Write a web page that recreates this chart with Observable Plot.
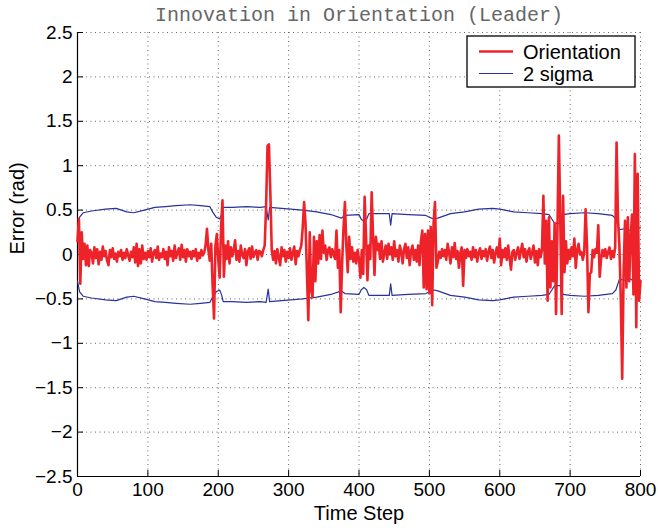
<!DOCTYPE html>
<html>
<head>
<meta charset="utf-8">
<script src="https://cdn.jsdelivr.net/npm/d3@7"></script>
<script src="https://cdn.jsdelivr.net/npm/@observablehq/plot@0.6"></script>
<style>
  html, body { margin: 0; padding: 0; background: #fff; }
  svg { display: block; }
</style>
</head>
<body>
<div id="chart"></div>
<script>
// ---- data ----
const xTicks = [0, 100, 200, 300, 400, 500, 600, 700, 800];
const yTicks = [-2.5, -2, -1.5, -1, -0.5, 0, 0.5, 1, 1.5, 2, 2.5];

// Orientation innovation, sampled every 2 time steps (0..800)
const orientationStep = 2;
const orientation = [
  0.15, 0.40, -0.33, 0.25, -0.05, 0.12, -0.12, 0.10, -0.13, 0.05,
  0.02, -0.10, 0.08, -0.04, 0.06, -0.11, 0.03, -0.06, 0.09, -0.02,
  0.04, -0.07, -0.12, 0.05, -0.03, 0.07, -0.05, 0.01, -0.08, 0.03,
  -0.02, 0.05, -0.06, 0.02, -0.04, 0.06, -0.01, -0.07, 0.03, -0.03,
  0.08, -0.09, 0.12, -0.13, 0.06, -0.10, 0.10, -0.05, 0.02, -0.06,
  0.04, -0.03, 0.07, -0.08, 0.02, 0.05, -0.04, 0.09, -0.06, 0.01,
  -0.03, 0.06, -0.05, 0.03, -0.12, 0.08, -0.02, 0.04, -0.07, 0.10,
  -0.04, 0.02, 0.07, -0.06, 0.11, -0.03, 0.05, -0.08, 0.06, -0.02,
  0.03, -0.05, 0.04, -0.02, 0.06, -0.07, 0.02, -0.04, 0.05, -0.01,
  0.02, 0.10, 0.29, 0.05, -0.07, 0.12, -0.35, -0.72, 0.10, 0.23,
  -0.05, -0.26, 0.30, 0.61, -0.25, 0.10, -0.05, 0.15, -0.10, 0.08,
  -0.02, 0.05, 0.16, -0.06, 0.04, -0.08, 0.10, 0.00, -0.04, 0.06,
  -0.12, 0.03, 0.07, -0.05, 0.09, -0.03, 0.02, 0.05, -0.06, 0.04,
  0.03, -0.02, 0.05, 0.10, 0.55, 1.22, 1.24, 0.70, 0.05, -0.06,
  0.04, -0.10, 0.06, -0.03, -0.12, 0.08, -0.02, 0.05, -0.08, 0.03,
  -0.04, 0.07, -0.06, 0.02, 0.09, -0.11, 0.04, -0.02, 0.05, 0.10,
  0.30, 0.59, 0.35, -0.20, -0.74, 0.25, -0.40, -0.48, 0.20, -0.30,
  0.15, -0.10, 0.22, -0.05, 0.27, 0.02, 0.10, -0.06, 0.05, 0.08,
  -0.03, 0.06, 0.00, -0.05, 0.27, -0.15, 0.05, -0.65, -0.10, 0.30,
  0.59, 0.10, -0.20, 0.20, -0.05, 0.08, -0.08, 0.02, -0.10, 0.05,
  -0.05, -0.26, 0.05, -0.22, 0.65, 0.20, -0.29, 0.10, -0.05, 0.70,
  0.20, -0.23, 0.20, 0.05, 0.12, -0.05, 0.15, -0.08, 0.02, 0.10,
  -0.05, 0.12, 0.00, 0.08, -0.06, 0.15, -0.02, 0.05, -0.08, 0.10,
  0.03, -0.10, 0.06, 0.12, -0.04, 0.08, -0.12, 0.04, 0.10, -0.06,
  0.05, -0.08, 0.10, -0.12, 0.15, 0.27, -0.37, 0.23, -0.39, 0.27,
  -0.44, 0.31, -0.57, 0.35, 0.59, -0.15, -0.08, 0.03, -0.04, 0.06,
  -0.02, 0.05, -0.06, 0.12, 0.02, -0.10, 0.08, -0.03, 0.13, -0.05,
  0.04, -0.15, 0.02, 0.08, -0.35, 0.05, -0.04, 0.06, -0.02, 0.03,
  -0.06, 0.08, -0.03, 0.05, -0.08, 0.02, 0.07, -0.05, 0.04, -0.02,
  0.06, -0.07, 0.03, 0.09, -0.04, 0.05, -0.09, 0.02, 0.08, -0.03,
  0.18, -0.12, 0.05, -0.03, 0.07, -0.06, 0.10, -0.04, -0.17, 0.03,
  0.05, -0.06, 0.02, 0.08, -0.05, 0.04, 0.12, -0.03, 0.06, -0.08,
  0.03, 0.07, -0.05, 0.02, 0.10, -0.09, 0.04, -0.12, 0.06, -0.03,
  0.05, 0.66, -0.10, 0.38, -0.52, 0.42, -0.37, 0.15, -0.30, 0.35,
  -0.67, 0.30, 1.34, 0.40, -0.67, 0.66, -0.20, 0.15, -0.10, 0.05,
  -0.05, 0.08, -0.02, 0.18, -0.15, 0.05, 0.12, 0.00, 0.03, -0.06,
  0.02, 0.51, 0.10, -0.65, -0.22, -0.20, 0.05, -0.03, 0.06, 0.02,
  0.33, -0.25, -0.05, 0.05, -0.02, 0.06, -0.04, 0.03, 0.08, -0.05,
  0.04, -0.03, 0.08, 1.26, 0.40, 0.10, -0.50, -1.40, -0.20, 0.38,
  -0.37, 0.42, -0.30, 0.20, 0.45, -0.45, 1.13, -0.82, 0.91, -0.52,
  -0.30
];

// 2-sigma bound (upper; lower bound is its negative)
const sigmaSteps = [0, 3, 8, 20, 40, 55, 70, 80, 95, 110, 125, 140, 160, 175, 188, 192, 197, 202, 205, 207,
  220, 240, 260, 268, 271, 273, 290, 320, 340, 360, 375, 380, 400, 403, 407, 411, 414, 430, 443, 445,
  447, 470, 495, 500, 503, 507, 512, 530, 550, 570, 590, 600, 620, 640, 660, 670, 674, 678, 686, 690,
  700, 720, 740, 760, 765, 770, 778, 785, 790, 800];
const sigmaValues = [0.30, 0.42, 0.47, 0.49, 0.51, 0.52, 0.48, 0.47, 0.50, 0.53, 0.54, 0.55, 0.56, 0.55, 0.54, 0.48, 0.42, 0.40, 0.46, 0.53,
  0.53, 0.54, 0.53, 0.54, 0.39, 0.53, 0.52, 0.50, 0.48, 0.45, 0.41, 0.44, 0.45, 0.40, 0.37, 0.40, 0.46, 0.46, 0.46, 0.33,
  0.46, 0.45, 0.44, 0.42, 0.41, 0.40, 0.41, 0.46, 0.48, 0.51, 0.52, 0.51, 0.48, 0.47, 0.46, 0.45, 0.40, 0.35, 0.35, 0.45,
  0.46, 0.47, 0.46, 0.44, 0.40, 0.28, 0.29, 0.27, 0.30, 0.30];

// ---- tables built from the arrays ----
const orientationData = orientation.map((v, i) => ({step: i * orientationStep, value: v}));
const sigmaUpper = sigmaSteps.map((s, i) => ({step: s, value: sigmaValues[i]}));
const sigmaLower = sigmaSteps.map((s, i) => ({step: s, value: -sigmaValues[i]}));

const red = "#ee2229";
const blue = "#27329a";
const fmt = d => String(d).replace("-", "\u2212");
const gridStyle = {stroke: "#000", strokeOpacity: 0.6, strokeWidth: 1, strokeDasharray: "1,3.5"};

const chart = Plot.plot({
  width: 658,
  height: 528,
  marginLeft: 77,
  marginRight: 18,
  marginTop: 32,
  marginBottom: 52,
  style: {fontFamily: "'Liberation Sans', Arial, Helvetica, sans-serif", fontSize: "19px", background: "#fff", color: "#000"},
  x: {domain: [0, 800]},
  y: {domain: [-2.5, 2.5]},
  marks: [
    Plot.gridX(xTicks, gridStyle),
    Plot.gridY(yTicks, gridStyle),
    Plot.ruleX([0], {stroke: "#000", strokeWidth: 1.2}),
    Plot.ruleY([-2.5], {stroke: "#000", strokeWidth: 1.2}),
    Plot.axisX({ticks: xTicks, tickSize: -6, tickPadding: 12, tickFormat: fmt, label: null, fontSize: 19}),
    Plot.axisY({ticks: yTicks, tickSize: -6, tickPadding: 11, tickFormat: fmt, label: null, fontSize: 19}),
    Plot.line(sigmaUpper, {x: "step", y: "value", stroke: blue, strokeWidth: 1.2}),
    Plot.line(sigmaLower, {x: "step", y: "value", stroke: blue, strokeWidth: 1.2}),
    Plot.line(orientationData, {x: "step", y: "value", stroke: red, strokeWidth: 2.6, strokeLinejoin: "round"}),
    Plot.text(["Innovation in Orientation (Leader)"], {frameAnchor: "top", dy: -18, lineAnchor: "middle",
      fontFamily: "'Liberation Mono', 'DejaVu Sans Mono', monospace", fontSize: 20, fill: "#666"}),
    Plot.text(["Time Step"], {frameAnchor: "bottom", dy: 37, lineAnchor: "middle", fontSize: 20}),
    Plot.text(["Error (rad)"], {frameAnchor: "left", dx: -60, rotate: -90, lineAnchor: "middle", fontSize: 20})
  ]
});

document.getElementById("chart").appendChild(chart);

// legend
const svg = d3.select(chart);
const lg = svg.append("g")
  .attr("font-family", "'Liberation Sans', Arial, Helvetica, sans-serif")
  .attr("font-size", 20)
  .attr("text-anchor", "start");
lg.append("rect").attr("x", 467).attr("y", 36).attr("width", 168).attr("height", 51)
  .attr("fill", "#fff").attr("stroke", "#000").attr("stroke-width", 1.3);
const legendItems = [
  {label: "Orientation", color: red, width: 2.6, y: 51.5},
  {label: "2 sigma", color: blue, width: 1.2, y: 73.5}
];
legendItems.forEach(it => {
  lg.append("line").attr("x1", 479).attr("x2", 513).attr("y1", it.y).attr("y2", it.y)
    .attr("stroke", it.color).attr("stroke-width", it.width);
  lg.append("text").attr("x", 523).attr("y", it.y).attr("dy", "0.35em")
    .attr("text-anchor", "start").attr("fill", "#000").text(it.label);
});
</script>
</body>
</html>
